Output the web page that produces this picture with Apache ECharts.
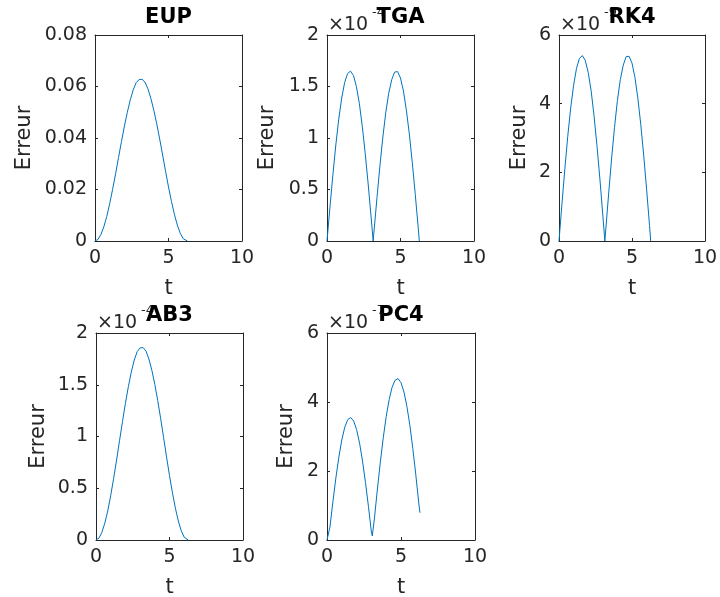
<!DOCTYPE html>
<html>
<head>
<meta charset="utf-8">
<script src="https://cdn.jsdelivr.net/npm/echarts@6/dist/echarts.min.js"></script>
<style>
  html, body { margin: 0; padding: 0; background: #fff; }
  #main { width: 720px; height: 597px; }
</style>
</head>
<body>
<div id="main"></div>
<script>
// time samples
const tBump = [0, 0.2, 0.4, 0.6, 0.8, 1.0, 1.2, 1.4, 1.6, 1.8, 2.0, 2.2, 2.4, 2.6, 2.8, 3.0,
  3.2, 3.4, 3.6, 3.8, 4.0, 4.2, 4.4, 4.6, 4.8, 5.0, 5.2, 5.4, 5.6, 5.8, 6.0, 6.28];
const tArch = [0, 0.2, 0.4, 0.6, 0.8, 1.0, 1.2, 1.4, 1.6, 1.8, 2.0, 2.2, 2.4, 2.6, 2.8, 3.0, 3.14,
  3.2, 3.4, 3.6, 3.8, 4.0, 4.2, 4.4, 4.6, 4.8, 5.0, 5.2, 5.4, 5.6, 5.8, 6.0, 6.2, 6.28];
const tPc4 = [0, 0.12, 0.2, 0.4, 0.6, 0.8, 1.0, 1.2, 1.4, 1.6, 1.8, 2.0, 2.2, 2.4, 2.6, 2.8, 3.0, 3.06,
  3.2, 3.4, 3.6, 3.8, 4.0, 4.2, 4.4, 4.6, 4.8, 5.0, 5.2, 5.4, 5.6, 5.8, 6.0, 6.2, 6.28];

// errors (EUP plain, the others in units of the axis multiplier)
const eupErr = [0, 0.0006, 0.0025, 0.0055, 0.0095, 0.0145, 0.0201, 0.0261, 0.0324, 0.0386, 0.0446,
  0.0500, 0.0548, 0.0587, 0.0615, 0.0627, 0.0628, 0.0617, 0.0591, 0.0554, 0.0508, 0.0455, 0.0396,
  0.0334, 0.0271, 0.0210, 0.0154, 0.0104, 0.0062, 0.0030, 0.0009, 0];
const tgaErr = [0, 0.328, 0.643, 0.932, 1.184, 1.388, 1.538, 1.626, 1.649, 1.607, 1.500, 1.337, 1.114,
  0.850, 0.553, 0.233, 0, 0.097, 0.420, 0.730, 1.010, 1.249, 1.435, 1.565, 1.640, 1.645, 1.582, 1.456,
  1.270, 1.040, 0.764, 0.461, 0.138, 0];           // x1e-4
const rk4Err = [0, 1.07, 2.10, 3.05, 3.87, 4.54, 5.03, 5.32, 5.40, 5.26, 4.91, 4.38, 3.65, 2.78, 1.81,
  0.76, 0, 0.32, 1.37, 2.39, 3.30, 4.09, 4.70, 5.12, 5.37, 5.38, 5.18, 4.77, 4.16, 3.40, 2.50, 1.51,
  0.45, 0];                                         // x1e-9
const ab3Err = [0, 0.018, 0.074, 0.163, 0.281, 0.429, 0.595, 0.773, 0.959, 1.143, 1.320, 1.480, 1.622,
  1.738, 1.820, 1.856, 1.859, 1.826, 1.749, 1.640, 1.504, 1.347, 1.172, 0.989, 0.802, 0.622, 0.456,
  0.308, 0.184, 0.089, 0.027, 0];                   // x1e-4
const pc4Err = [0, 0, 0.38, 1.11, 1.80, 2.40, 2.90, 3.27, 3.49, 3.55, 3.45, 3.20, 2.81, 2.29, 1.67,
  0.97, 0.23, 0.12, 0.61, 1.45, 2.24, 2.96, 3.58, 4.07, 4.43, 4.63, 4.68, 4.56, 4.29, 3.87, 3.32,
  2.65, 1.89, 1.07, 0.79];                          // x1e-7

const panels = [
  { title: 'EUP', t: tBump, y: eupErr, yMax: 0.08, yStep: 0.02, exp: null, left: 95, top: 35, w: 147, h: 206, gap: 60 },
  { title: 'TGA', t: tArch, y: tgaErr, yMax: 2, yStep: 0.5, exp: '-4', left: 327, top: 35, w: 147, h: 206, gap: 49 },
  { title: 'RK4', t: tArch, y: rk4Err, yMax: 6, yStep: 2, exp: '-9', left: 559, top: 35, w: 146, h: 206, gap: 29 },
  { title: 'AB3', t: tBump, y: ab3Err, yMax: 2, yStep: 0.5, exp: '-4', left: 96, top: 333, w: 147, h: 207, gap: 47 },
  { title: 'PC4', t: tPc4, y: pc4Err, yMax: 6, yStep: 2, exp: '-7', left: 327, top: 333, w: 148, h: 207, gap: 30 }
];

const ink = '#262626';
const font = 'DejaVu Sans';

const grid = [], xAxis = [], yAxis = [], series = [], graphic = [];

panels.forEach((p, i) => {
  grid.push({ left: p.left, top: p.top, width: p.w, height: p.h, outerBoundsMode: 'none', containLabel: false });

  const axisLine = { show: true, onZero: false, lineStyle: { color: ink, width: 1 } };
  const tick = { show: true, inside: true, length: 3, lineStyle: { color: ink } };

  // main axes
  xAxis.push({
    gridIndex: i, type: 'value', min: 0, max: 10, interval: 5,
    axisLine: axisLine, axisTick: tick, splitLine: { show: false },
    axisLabel: { fontFamily: font, fontSize: 19, color: ink, margin: 8 },
    name: 't', nameLocation: 'middle', nameGap: 37,
    nameTextStyle: { fontFamily: font, fontSize: 21, color: ink }
  });
  // mirrored top axis (box + ticks)
  xAxis.push({
    gridIndex: i, type: 'value', min: 0, max: 10, interval: 5, position: 'top',
    axisLine: axisLine, axisTick: tick, splitLine: { show: false }, axisLabel: { show: false }
  });
  yAxis.push({
    gridIndex: i, type: 'value', min: 0, max: p.yMax, interval: p.yStep,
    axisLine: axisLine, axisTick: tick, splitLine: { show: false },
    axisLabel: { fontFamily: font, fontSize: 19, color: ink, margin: 8 },
    name: 'Erreur', nameLocation: 'middle', nameGap: p.gap,
    nameTextStyle: { fontFamily: font, fontSize: 21, color: ink }
  });
  yAxis.push({
    gridIndex: i, type: 'value', min: 0, max: p.yMax, interval: p.yStep, position: 'right',
    axisLine: axisLine, axisTick: tick, splitLine: { show: false }, axisLabel: { show: false }
  });

  series.push({
    type: 'line', xAxisIndex: 2 * i, yAxisIndex: 2 * i,
    data: p.t.map((t, k) => [t, p.y[k]]),
    showSymbol: false, symbol: 'none',
    lineStyle: { color: '#0072BD', width: 1 },
    silent: true
  });

  // multiplier ×10^n
  if (p.exp) {
    graphic.push({
      type: 'text', left: p.left + 1, top: p.top - 19, z: 10,
      style: { text: '×10', font: '19px ' + font, fill: ink }
    });
    graphic.push({
      type: 'text', left: p.left + 45, top: p.top - 29, z: 10,
      style: { text: p.exp, font: '13px ' + font, fill: ink }
    });
  }
  // title
  graphic.push({
    type: 'text', x: p.left + p.w / 2, y: p.top - 17, z: 20,
    style: {
      text: p.title, font: 'bold 21px ' + font, fill: '#000',
      align: 'center', verticalAlign: 'middle', textAlign: 'center', textVerticalAlign: 'middle'
    }
  });
});

const chart = echarts.init(document.getElementById('main'));
chart.setOption({
  animation: false,
  backgroundColor: '#fff',
  grid: grid,
  xAxis: xAxis,
  yAxis: yAxis,
  series: series,
  graphic: graphic
});
</script>
</body>
</html>
